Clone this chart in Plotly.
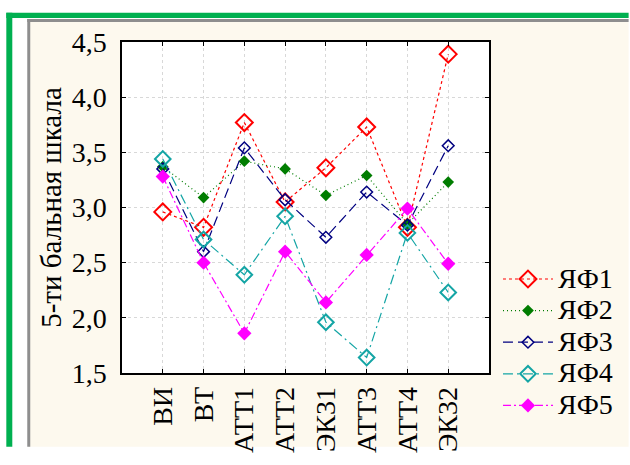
import plotly.graph_objects as go

categories = ["ВИ", "ВТ", "АТТ1", "АТТ2", "ЭК31", "АТТ3", "АТТ4", "ЭК32"]
yaf1 = [2.96, 2.82, 3.77, 3.05, 3.36, 3.73, 2.82, 4.39]
yaf2 = [3.37, 3.09, 3.42, 3.35, 3.11, 3.29, 2.85, 3.23]
yaf3 = [3.35, 2.60, 3.54, 3.07, 2.73, 3.14, 2.84, 3.56]
yaf4 = [3.44, 2.71, 2.39, 2.92, 1.96, 1.64, 2.77, 2.23]
yaf5 = [3.28, 2.50, 1.86, 2.60, 2.14, 2.57, 2.99, 2.49]
names = ["ЯФ1", "ЯФ2", "ЯФ3", "ЯФ4", "ЯФ5"]
tick_vals = [1.5, 2.0, 2.5, 3.0, 3.5, 4.0, 4.5]

W, H = 630, 465
ML, MR, MT, MB = 122, 140, 42, 77
PW, PH = W - ML - MR, H - MT - MB

def px(x):
    return (x - ML) / PW

def py(y):
    return (H - MB - y) / PH

styles = [
    dict(color="#FF0000", dash="3px,3px", symbol="diamond-open", size=13, lw=2.0),
    dict(color="#007D00", dash="1px,3px", symbol="diamond", size=9, lw=0),
    dict(color="#000080", dash="10px,5px", symbol="diamond-open", size=9, lw=1.5),
    dict(color="#14A5A5", dash="10px,4px,2px,4px", symbol="diamond-open", size=12, lw=2.0),
    dict(color="#FF00FF", dash="8px,3px,2px,3px", symbol="diamond", size=11, lw=0),
]

font = "Liberation Serif"
fig = go.Figure()
for nm, vals, st in zip(names, [yaf1, yaf2, yaf3, yaf4, yaf5], styles):
    fig.add_trace(go.Scatter(
        x=categories, y=vals, mode="lines+markers",
        name='<span style="font-size:28px">' + nm + "</span>",
        legendgroup=nm,
        line=dict(color=st["color"], dash=st["dash"], width=1.2),
        marker=dict(symbol=st["symbol"], size=st["size"], color=st["color"],
                    line=dict(color=st["color"], width=st["lw"])),
    ))

shapes = [
    dict(type="rect", xref="paper", yref="paper", x0=px(28), x1=px(W), y0=py(21), y1=py(H),
         fillcolor="#FDF9EE", line=dict(width=0), layer="below"),
    dict(type="rect", xref="paper", yref="paper", x0=px(27), x1=px(W), y0=py(18), y1=py(21),
         fillcolor="#8E8E8E", line=dict(width=0), layer="below"),
    dict(type="rect", xref="paper", yref="paper", x0=px(27), x1=px(30), y0=py(18), y1=py(H),
         fillcolor="#8E8E8E", line=dict(width=0), layer="below"),
    dict(type="rect", xref="paper", yref="paper", x0=px(6), x1=px(W), y0=py(11.5), y1=py(17),
         fillcolor="#00B050", line=dict(width=0), layer="below"),
    dict(type="rect", xref="paper", yref="paper", x0=px(6), x1=px(12), y0=py(11.5), y1=py(H),
         fillcolor="#00B050", line=dict(width=0), layer="below"),
    dict(type="rect", xref="paper", yref="paper", x0=0, x1=1, y0=0, y1=1,
         fillcolor="white", line=dict(width=0), layer="below"),
]

fig.update_layout(
    width=W, height=H,
    margin=dict(l=ML, r=MR, t=MT, b=MB, pad=0),
    paper_bgcolor="white", plot_bgcolor="white",
    separators=", ",
    font=dict(family=font, size=28, color="black"),
    shapes=shapes,
    showlegend=True,
    legend=dict(x=px(499), y=py(268), xanchor="left", yanchor="top",
                font=dict(family=font, size=22, color="black"),
                itemwidth=50,
                bgcolor="rgba(0,0,0,0)", tracegroupgap=0, traceorder="normal"),
    xaxis=dict(
        type="category", range=[-1, 8], showline=True, linecolor="black", linewidth=1.5,
        mirror="ticks", ticks="inside", ticklen=4, tickcolor="black",
        showgrid=True, gridcolor="#D8D8D8", griddash="dot", gridwidth=1,
        tickangle=-90, tickfont=dict(family=font, size=28), ticklabelstandoff=1,
        zeroline=False,
    ),
    yaxis=dict(
        range=[1.5, 4.5], tickvals=tick_vals, tickformat=".1f",
        showline=True, linecolor="black", linewidth=1.5,
        mirror="ticks", ticks="inside", ticklen=4, tickcolor="black",
        showgrid=True, gridcolor="#D8D8D8", griddash="dot", gridwidth=1,
        tickfont=dict(family=font, size=28), ticklabelstandoff=8,
        title=dict(text="5-ти бальная шкала", font=dict(family=font, size=29), standoff=2),
        zeroline=False,
    ),
)

fig.write_html("out.html")
